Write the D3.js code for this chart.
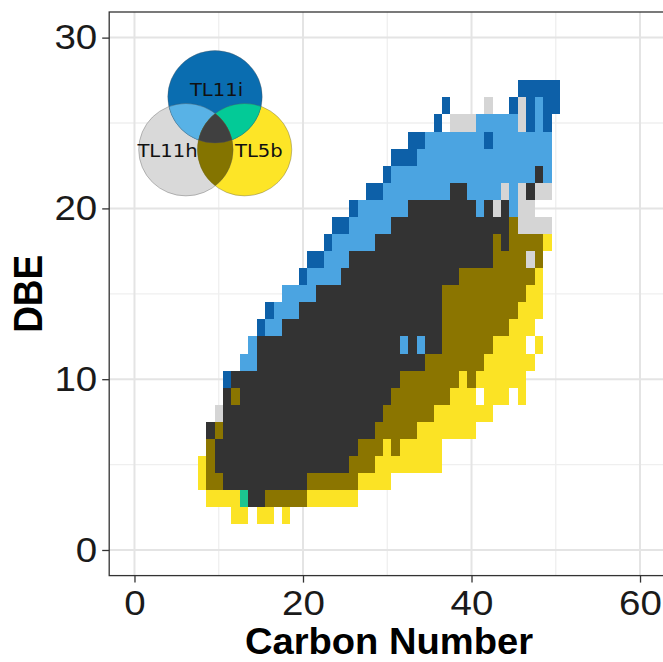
<!DOCTYPE html>
<html>
<head>
<meta charset="utf-8">
<script src="https://cdn.jsdelivr.net/npm/d3@7/dist/d3.min.js"></script>
<style>
  html, body { margin: 0; padding: 0; background: #ffffff; }
  svg { display: block; }
</style>
</head>
<body>
<svg id="chart" width="663" height="662"></svg>
<script>
// ---------------- DATA (runs: [DBE, first carbon, last carbon]) ----------------
const xTicks = [0, 20, 40, 60];
const yTicks = [0, 10, 20, 30];
const xMinor = [10, 30, 50];
const yMinor = [5, 15, 25];
const xTitle = "Carbon Number";
const yTitle = "DBE";
const setNames = ["TL11i", "TL11h", "TL5b"];

const tl11iOnly = [
  [27,46,50],[26,37,37],[26,45,45],[26,47,47],[26,49,50],
  [25,36,36],[25,47,47],[25,49,49],
  [24,33,34],[24,42,42],
  [23,31,33],[22,30,30],[21,28,29],[20,26,26],[19,24,25],[18,23,23],
  [17,21,22],[16,20,20],[14,16,16],[13,15,15],[10,11,11]
];
const tl11iTl11h = [
  [26,48,48],[25,41,45],[25,48,48],[24,35,41],[24,43,49],[23,34,49],
  [22,31,47],[22,49,49],[21,30,37],[21,40,43],[21,45,45],
  [20,27,32],[20,41,41],[20,45,45],[19,26,30],[18,24,28],[17,23,25],
  [16,21,24],[15,18,21],[14,17,19],[13,16,17],[12,14,14],[12,32,32],
  [12,34,34],[11,13,14]
];
const tl11hOnly = [
  [26,42,42],[26,46,46],[25,38,40],[25,46,46],[21,44,44],[21,46,46],
  [21,48,49],[20,43,43],[20,46,47],[19,46,49],[17,47,47],[8,10,10]
];
const allThree = [
  [22,48,48],[21,38,39],[21,47,47],[20,33,40],[20,42,42],[20,44,44],
  [19,31,44],[18,29,42],[18,44,44],[17,26,42],[16,25,38],[15,22,36],
  [14,20,36],[13,18,36],[12,15,31],[12,33,33],[12,35,36],[11,15,34],
  [10,12,31],[9,11,11],[9,13,30],[8,11,29],[7,9,9],[7,11,28],[6,10,26],
  [5,10,25],[4,11,20],[3,14,15]
];
const tl11hTl5b = [
  [19,45,45],[18,43,43],[18,45,48],[17,43,46],[17,48,48],[16,39,47],
  [15,37,46],[14,37,45],[13,37,44],[12,37,42],[11,35,41],[10,32,38],
  [10,40,40],[9,12,12],[9,31,37],[8,30,35],[7,10,10],[7,29,33],[6,9,9],
  [6,27,29],[6,31,31],[5,9,9],[5,26,28],[4,9,10],[4,21,26],[3,16,20]
];
const tl5bOnly = [
  [18,49,49],[16,48,48],[15,47,48],[14,46,48],[13,45,47],[12,43,46],
  [12,48,48],[11,42,47],[10,39,39],[10,41,46],[9,38,40],[9,42,44],
  [9,46,46],[8,36,42],[7,34,40],[6,30,30],[6,32,36],[5,8,8],[5,29,36],
  [4,8,8],[4,27,30],[3,9,12],[3,21,26],[2,12,13],[2,15,16],[2,18,18]
];
const tl11iTl5b = [[3,13,13]];

// ---------------- STYLE ----------------
const cellColors = {
  tl11iOnly: "#0d60a8",
  tl11iTl11h: "#4ba4e1",
  tl11hOnly: "#d5d5d5",
  allThree: "#333333",
  tl11hTl5b: "#8b7500",
  tl5bOnly: "#fbe325",
  tl11iTl5b: "#1cc490"
};
const groups = [
  ["tl11hOnly", tl11hOnly], ["tl5bOnly", tl5bOnly], ["tl11iOnly", tl11iOnly],
  ["tl11iTl11h", tl11iTl11h], ["tl11hTl5b", tl11hTl5b], ["tl11iTl5b", tl11iTl5b],
  ["allThree", allThree]
];

const svg = d3.select("#chart");
const W = 663, H = 662;
svg.append("rect").attr("width", W).attr("height", H).attr("fill", "#fff");

const x = d3.scaleLinear().domain([-3, 63]).range([109.2, 665.3]);
const y = d3.scaleLinear().domain([-1.5, 31.5]).range([575.6, 12]);
const SX = 1.1; // horizontal stretch of the source image text

// panel background
const panel = svg.append("g");
panel.append("rect")
  .attr("x", x(-3)).attr("y", y(31.5))
  .attr("width", x(63) - x(-3)).attr("height", y(-1.5) - y(31.5))
  .attr("fill", "#fff");

// grid
panel.selectAll(".xminor").data(xMinor).join("line")
  .attr("x1", d => x(d)).attr("x2", d => x(d))
  .attr("y1", y(31.5)).attr("y2", y(-1.5))
  .attr("stroke", "#efefef").attr("stroke-width", 1.3);
panel.selectAll(".yminor").data(yMinor).join("line")
  .attr("y1", d => y(d)).attr("y2", d => y(d))
  .attr("x1", x(-3)).attr("x2", x(63))
  .attr("stroke", "#efefef").attr("stroke-width", 1.3);
panel.selectAll(".xmajor").data(xTicks).join("line")
  .attr("x1", d => x(d)).attr("x2", d => x(d))
  .attr("y1", y(31.5)).attr("y2", y(-1.5))
  .attr("stroke", "#e4e4e4").attr("stroke-width", 2);
panel.selectAll(".ymajor").data(yTicks).join("line")
  .attr("y1", d => y(d)).attr("y2", d => y(d))
  .attr("x1", x(-3)).attr("x2", x(63))
  .attr("stroke", "#e4e4e4").attr("stroke-width", 2);

// cells
const cells = [];
groups.forEach(([key, runs]) => {
  runs.forEach(([dbe, c0, c1]) => {
    for (let c = c0; c <= c1; c++) cells.push({ c, dbe, key });
  });
});
svg.append("g").attr("shape-rendering", "crispEdges")
  .selectAll("rect").data(cells).join("rect")
  .attr("x", d => x(d.c - 0.5))
  .attr("y", d => y(d.dbe + 0.5))
  .attr("width", d => x(d.c + 0.5) - x(d.c - 0.5))
  .attr("height", d => y(d.dbe - 0.5) - y(d.dbe + 0.5))
  .attr("fill", d => cellColors[d.key]);

// ---------------- VENN INSET ----------------
const venn = svg.append("g");
const defs = svg.append("defs");
const circA = { cx: 215, cy: 96.8, rx: 47.2, ry: 46.2 };   // TL11i
const circH = { cx: 185.9, cy: 149.7, rx: 47.2, ry: 46.2 }; // TL11h
const circY = { cx: 244.6, cy: 149.7, rx: 47.2, ry: 46.2 }; // TL5b
function ell(sel, c) {
  return sel.append("ellipse").attr("cx", c.cx).attr("cy", c.cy).attr("rx", c.rx).attr("ry", c.ry);
}
["A", "H", "Y"].forEach((k, i) => {
  const c = [circA, circH, circY][i];
  ell(defs.append("clipPath").attr("id", "clip" + k), c);
});
ell(venn, circH).attr("fill", "#d9d9d9");
ell(venn, circY).attr("fill", "#fde527");
ell(venn, circA).attr("fill", "#0a6db0");
ell(venn.append("g").attr("clip-path", "url(#clipA)"), circH).attr("fill", "#58b2e6");
ell(venn.append("g").attr("clip-path", "url(#clipA)"), circY).attr("fill", "#03ca97");
ell(venn.append("g").attr("clip-path", "url(#clipH)"), circY).attr("fill", "#847400");
ell(venn.append("g").attr("clip-path", "url(#clipA)").append("g").attr("clip-path", "url(#clipH)"), circY)
  .attr("fill", "#404040");
[circA, circH, circY].forEach(c => ell(venn, c).attr("fill", "none")
  .attr("stroke", "#555").attr("stroke-opacity", 0.45).attr("stroke-width", 0.8));

const vennLabels = [
  { t: setNames[0], x: 216.5, y: 95.7 },
  { t: setNames[1], x: 167.5, y: 156.7 },
  { t: setNames[2], x: 258.8, y: 156.7 }
];
venn.selectAll("text").data(vennLabels).join("text")
  .attr("transform", d => `translate(${d.x},${d.y}) scale(${SX},1)`)
  .attr("text-anchor", "middle")
  .attr("font-family", "DejaVu Sans, Verdana, sans-serif")
  .attr("font-size", 17.8)
  .attr("fill", "#111")
  .text(d => d.t);

// panel border
svg.append("rect")
  .attr("x", x(-3)).attr("y", y(31.5))
  .attr("width", x(63) - x(-3)).attr("height", y(-1.5) - y(31.5))
  .attr("fill", "none").attr("stroke", "#333").attr("stroke-width", 1.3);

// ---------------- AXES ----------------
const fontMain = "Liberation Sans, Arial, Helvetica, sans-serif";
const gx = svg.append("g").attr("transform", `translate(0,${y(-1.5)})`)
  .call(d3.axisBottom(x).tickValues(xTicks).tickSize(7).tickPadding(7.5).tickSizeOuter(0));
const gy = svg.append("g").attr("transform", `translate(${x(-3)},0)`)
  .call(d3.axisLeft(y).tickValues(yTicks).tickSize(7).tickPadding(5).tickSizeOuter(0));
[gx, gy].forEach(g => {
  g.select(".domain").remove();
  g.selectAll(".tick line").attr("stroke", "#333").attr("stroke-width", 1.3);
  g.selectAll(".tick text").attr("font-family", fontMain).attr("font-size", 35)
    .attr("fill", "#1a1a1a");
});
gx.selectAll(".tick text").attr("transform", `scale(${SX},1)`).attr("x", 0);
gy.selectAll(".tick text").attr("x", null)
  .attr("transform", `translate(-12,0) scale(${SX},1)`);

svg.append("text")
  .attr("transform", `translate(389,654) scale(1.06,1)`)
  .attr("text-anchor", "middle")
  .attr("font-family", fontMain).attr("font-weight", "bold").attr("font-size", 36)
  .attr("fill", "#000").text(xTitle);
svg.append("text")
  .attr("transform", `translate(42,${(y(31.5) + y(-1.5)) / 2}) scale(${SX},1) rotate(-90)`)
  .attr("text-anchor", "middle")
  .attr("font-family", fontMain).attr("font-weight", "bold").attr("font-size", 37)
  .attr("fill", "#000").text(yTitle);
</script>
</body>
</html>
